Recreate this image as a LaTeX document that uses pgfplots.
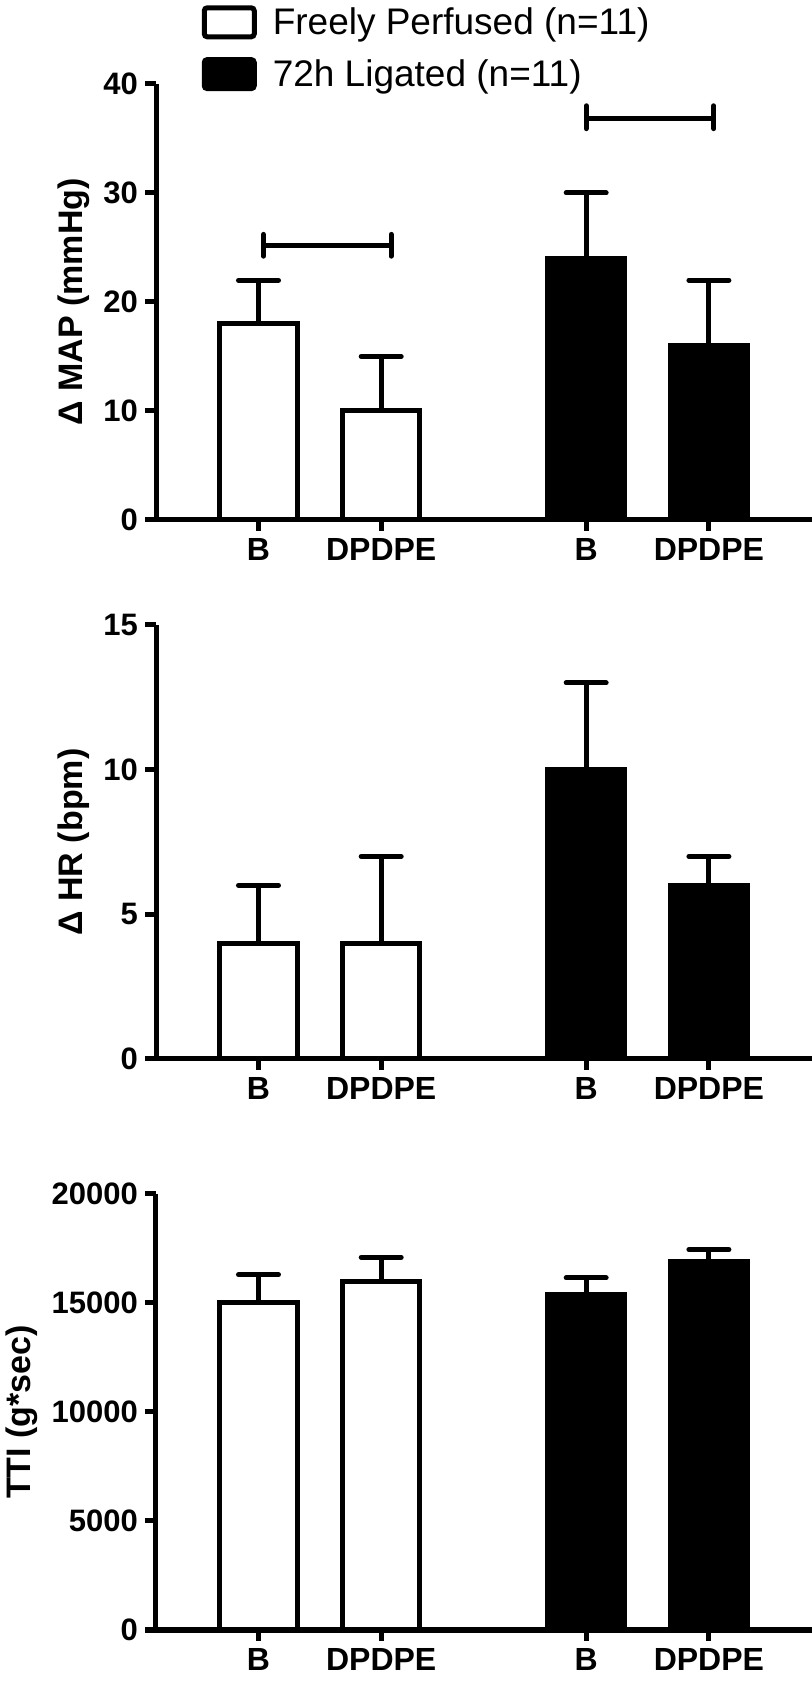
\documentclass[border=0pt]{standalone}
\usepackage{fontspec}
\setmainfont{Liberation Sans}
\usepackage{pgfplots}
\pgfplotsset{compat=1.18}

% 1 px of the reference = 0.5pt
\pgfplotsset{
  prism/.style={
    scale only axis, width=328pt,
    axis lines*=left,
    axis line style={line width=2.5pt},
    xmin=0.165, xmax=5.51, ymin=0,
    xtick={1,2,3.67,4.67},
    xticklabels={B,DPDPE,B,DPDPE},
    tick align=outside,
    major tick length=5.5pt,
    tick style={line width=2.5pt, black},
    xticklabel style={font=\bfseries\fontsize{16}{16}\selectfont},
    yticklabel style={font=\bfseries\fontsize{15.5}{16}\selectfont},
    /pgf/number format/assume math mode=true,
    /pgf/number format/1000 sep={},
    scaled y ticks=false,
    ylabel style={font=\bfseries\fontsize{17}{17}\selectfont},
    clip=false,
  },
  bars/.style={
    ybar, bar width=0.63, bar shift=0pt, draw=black, line width=2.5pt,
    error bars/y dir=plus, error bars/y explicit,
    error bars/error bar style={line width=2.5pt, black},
    error bars/error mark options={black, rotate=90, line width=2.5pt, mark size=10pt, line cap=round},
  },
  bracket/.style={black, line width=2.5pt, line join=round, line cap=round, no markers},
}

\begin{document}
\begin{tikzpicture}
\path[use as bounding box] (0,0) rectangle (406pt,842pt);

% panel 1: MAP
\begin{axis}[prism, at={(78pt,582pt)}, anchor=south west, height=218pt,
  ymax=40, ytick={0,10,20,30,40},
  ylabel={Δ MAP (mmHg)},
  legend style={at={(axis description cs:0.06,0.968)}, anchor=south west,
    draw=none, fill=none, font=\fontsize{18.5}{18.5}\selectfont,
    row sep=7pt, legend cell align=left,
    /tikz/every odd column/.append style={column sep=6pt}},
  legend image code/.code={\draw[#1, line width=2.5pt, rounded corners=1.5pt] (0pt,-7pt) rectangle (25pt,7.5pt);},
]
\addplot[bars, fill=white] coordinates {(1,18) +- (0,4) (2,10) +- (0,5)};
\addlegendentry{Freely Perfused (n=11)}
\addplot[bars, fill=black] coordinates {(3.67,24) +- (0,6) (4.67,16) +- (0,6)};
\addlegendentry{72h Ligated (n=11)}
\addplot[bracket, forget plot] coordinates {(1.04,26.2) (1.04,24.2) (1.04,25.2) (2.08,25.2) (2.08,26.2) (2.08,24.2)};
\addplot[bracket, forget plot] coordinates {(3.67,38.0) (3.67,35.9) (3.67,36.8) (4.71,36.8) (4.71,38.0) (4.71,35.9)};
\end{axis}

% panel 2: HR
\begin{axis}[prism, at={(78pt,312.5pt)}, anchor=south west, height=217pt,
  ymax=15, ytick={0,5,10,15},
  ylabel={Δ HR (bpm)},
]
\addplot[bars, fill=white] coordinates {(1,4) +- (0,2) (2,4) +- (0,3)};
\addplot[bars, fill=black] coordinates {(3.67,10) +- (0,3) (4.67,6) +- (0,1)};
\end{axis}

% panel 3: TTI
\begin{axis}[prism, at={(78pt,27pt)}, anchor=south west, height=218pt,
  ymax=20000, ytick={0,5000,10000,15000,20000},
  ylabel={TTI (g*sec)},
]
\addplot[bars, fill=white] coordinates {(1,15000) +- (0,1300) (2,16000) +- (0,1100)};
\addplot[bars, fill=black] coordinates {(3.67,15400) +- (0,750) (4.67,16900) +- (0,550)};
\end{axis}
\end{tikzpicture}
\end{document}
